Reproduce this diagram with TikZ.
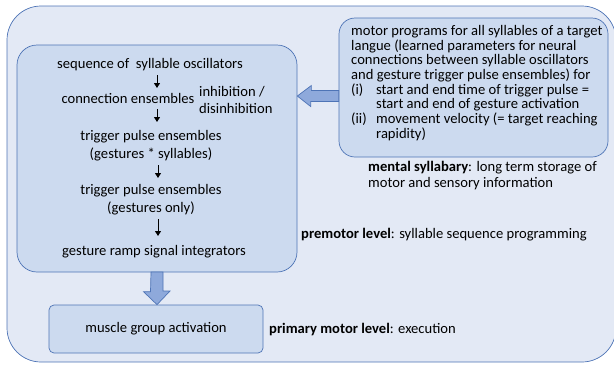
\documentclass[tikz,border=0pt]{standalone}
\usepackage{fontspec}
\setmainfont{Carlito}
\usepackage{tikz}
\usetikzlibrary{arrows.meta}
\definecolor{outerfill}{HTML}{E3E9F5}
\definecolor{boxfill}{HTML}{CCDAEF}
\definecolor{boxline}{HTML}{4E74B6}
\definecolor{arrfill}{HTML}{8EA9DB}

\begin{document}
\begin{tikzpicture}[x=1pt,y=-1pt,
    level/.style={draw=boxline, fill=boxfill, line width=0.7pt, inner sep=0pt},
    txt/.style={inner sep=0pt, font=\fontsize{14.6}{14.7}\selectfont},
    small/.style={-{Triangle[length=5pt,width=6pt]}, line width=1pt},
    block/.style={draw=boxline, fill=arrfill, line width=0.7pt}]
    \useasboundingbox (0,0) rectangle (614,365);
    \draw[draw=boxline, fill=outerfill, line width=0.7pt, rounded corners=34pt] (7,6) rectangle (616,362);

    \node[level, rounded corners=20pt, minimum width=280pt, minimum height=227pt] (prem) at (157,158.5) {};
    \node[level, rounded corners=16pt, minimum width=269pt, minimum height=139pt] (syllab) at (473.5,87.5) {};
    \node[level, rounded corners=5pt, minimum width=214pt, minimum height=48pt] (muscle) at (156,329) {};

    \node[txt] (seq) at (150,65) {sequence of \ syllable oscillators};
    \node[txt] (conn) at (128,98) {connection ensembles};
    \node[txt, anchor=west, align=left] (inhib) at (199,100) {inhibition /\\[2.3pt]disinhibition};
    \node[txt, align=center] (trigsyl) at (151,146) {trigger pulse ensembles\\[3.3pt](gestures * syllables)};
    \node[txt, align=center] (trigges) at (151,199.5) {trigger pulse ensembles\\[3.3pt](gestures only)};
    \node[txt] (ramp) at (154,252) {gesture ramp signal integrators};
    \node[txt] at (muscle) {muscle group activation};

    \coordinate (ax) at (157,0);
    \draw[small] (157,75) -- (157,88);
    \draw[small] (157,109) -- (157,122);
    \draw[small] (158,165) -- (158,178);
    \draw[small] (158,219) -- (158,236);

    \node[txt, anchor=north west, align=left] (prog) at (351,25) {motor programs for all syllables of a target\\
      langue (learned parameters for neural\\
      connections between syllable oscillators\\
      and gesture trigger pulse ensembles) for\\
      \makebox[25pt][l]{(i)}start and end time of trigger pulse =\\
      \hspace*{25pt}start and end of gesture activation\\
      \makebox[25pt][l]{(ii)}movement velocity (= target reaching\\
      \hspace*{25pt}rapidity)};

    \node[txt, anchor=north west, align=left] (ment) at (368,161) {\textbf{mental syllabary}: long term storage of\\[1.5pt]
      motor and sensory information};
    \node[txt, anchor=west] (premlab) at (301,235) {\textbf{premotor level}: syllable sequence programming};
    \node[txt, anchor=west] (primlab) at (269,330) {\textbf{primary motor level}: execution};

    \coordinate (ay) at (0,96);
    \coordinate (ay1) at (0,90.5);
    \coordinate (ay2) at (0,101.5);
    \draw[block] (prem.east |- ay) -- ++(14,-10.5) -- ++(0,5) -- (syllab.west |- ay1)
      -- (syllab.west |- ay2) -- ++(-28,0) -- ++(0,5) -- cycle;
    \draw[block] (muscle.north -| ax) -- ++(-13.5,-13) -- ++(7,0) -- (151,272)
      -- (163,272) -- ++(0,19) -- ++(7,0) -- cycle;
\end{tikzpicture}
\end{document}
